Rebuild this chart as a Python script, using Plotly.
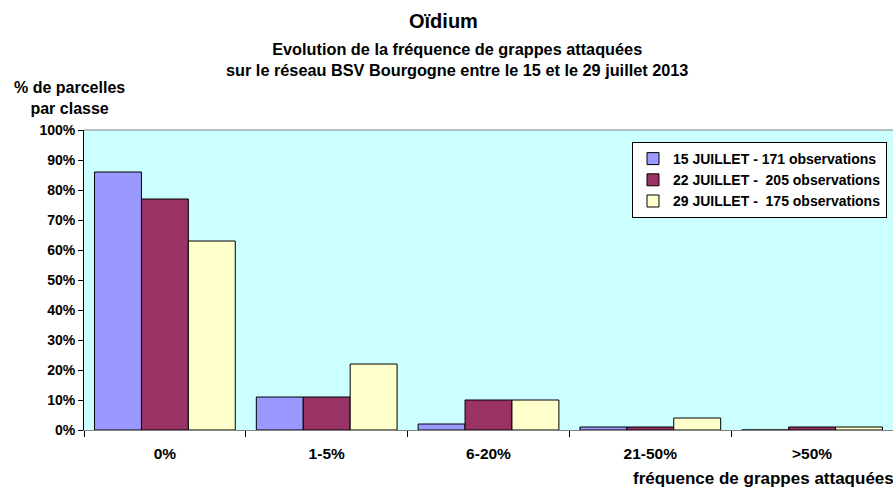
import plotly.graph_objects as go

categories = ["0%", "1-5%", "6-20%", "21-50%", ">50%"]
s15 = [86, 11, 2, 1, 0]
s22 = [77, 11, 10, 1, 1]
s29 = [63, 22, 10, 4, 1]
names = ["15 JUILLET - 171 observations", "22 JUILLET -  205 observations", "29 JUILLET -  175 observations"]
colors = ["#9999FF", "#993366", "#FFFFCC"]
yticks = list(range(0, 101, 10))
ytext = [f"<b>{v}%</b>" for v in yticks]

FAM = "Liberation Sans, Arial"
fig = go.Figure()
for vals, nm, c in zip([s15, s22, s29], names, colors):
    fig.add_trace(go.Bar(x=categories, y=vals, name=f"<b>{nm}</b>",
                         marker=dict(color=c, line=dict(color="black", width=1))))

W_FIG, H_FIG = 893, 488
L, T, H = 84, 130, 300
B = H_FIG - T - H
W = W_FIG - L

def py(pix):
    return (T + H - pix) / H
def px(pix):
    return (pix - L) / W

fig.update_layout(
    width=W_FIG, height=H_FIG,
    margin=dict(l=L, r=0, t=T, b=B),
    paper_bgcolor="white", plot_bgcolor="#CCFFFF",
    barmode="group", bargap=0.13, bargroupgap=0,
    font=dict(family=FAM, size=14, color="black"),
    showlegend=True,
    legend=dict(x=px(887), y=py(142), xanchor="right", yanchor="top",
                bgcolor="white", bordercolor="black", borderwidth=1,
                font=dict(family=FAM, size=14, color="black"),
                tracegroupgap=0, itemwidth=30, traceorder="normal"),
    xaxis=dict(showline=True, linecolor="#808080", linewidth=1, ticks="outside", tickson="boundaries",
               ticklen=6, tickcolor="black", showgrid=False, ticklabelstandoff=9,
               tickvals=categories, ticktext=[f"<b>{c}</b>" for c in categories],
               tickfont=dict(family=FAM, size=15.5, color="black")),
    yaxis=dict(range=[0, 100], tickvals=yticks, ticktext=ytext, showline=True, linecolor="black", linewidth=1,
               ticks="outside", ticklen=5, tickcolor="black", showgrid=False, zeroline=False,
               tickfont=dict(family=FAM, size=14, color="black")),
    shapes=[dict(type="line", xref="paper", yref="paper", x0=0, x1=1, y0=1, y1=1,
                 line=dict(color="#808080", width=1))],
    annotations=[
        dict(text="<b>Oïdium</b>", xref="paper", yref="paper", x=px(443), y=py(21),
             xanchor="center", yanchor="middle",
             showarrow=False, font=dict(family=FAM, size=20, color="black")),
        dict(text="<b>Evolution de la fréquence de grappes attaquées<br>sur le réseau BSV Bourgogne entre le 15 et le 29 juillet 2013</b>",
             xref="paper", yref="paper", x=px(457), y=py(59), xanchor="center", yanchor="middle", showarrow=False,
             font=dict(family=FAM, size=16.3, color="black")),
        dict(text="<b>% de parcelles<br>par classe</b>", xref="paper", yref="paper", x=px(69), y=py(98),
             xanchor="center", yanchor="middle", showarrow=False, font=dict(family=FAM, size=16, color="black")),
        dict(text="<b>fréquence de grappes attaquées</b>", xref="paper", yref="paper", x=px(896), y=py(478),
             xanchor="right", yanchor="middle", showarrow=False, font=dict(family=FAM, size=17, color="black")),
    ],
)

fig.write_html("out.html", config={"displayModeBar": False},
               post_script="document.body.style.margin='0';document.body.style.overflow='hidden';")
